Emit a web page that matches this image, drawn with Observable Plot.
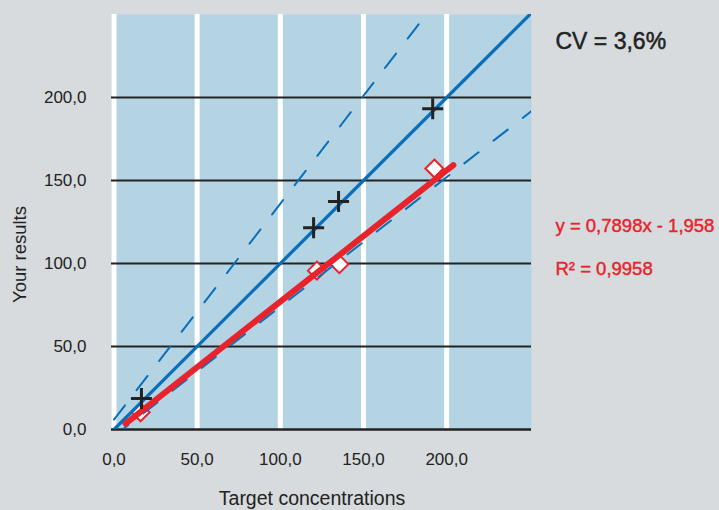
<!DOCTYPE html>
<html><head><meta charset="utf-8">
<script src="https://cdn.jsdelivr.net/npm/d3@7"></script>
<script src="https://cdn.jsdelivr.net/npm/@observablehq/plot@0.6"></script>
<style>
html,body{margin:0;padding:0;background:#d7dbdd;}
#chart{width:719px;height:510px;}
</style></head><body><div id="chart"></div>
<script>
// ---- data ----
const xTicks = [0, 50, 100, 150, 200];
const yTicks = [0, 50, 100, 150, 200];
const gridY = [50, 100, 150, 200];
const crossX = [16.5, 120, 135, 191.6];
const crossY = [18.6, 121.5, 137.3, 193.2];
const diamondX = [16, 122, 135.5, 192.6];
const diamondY = [10.4, 95.7, 99.6, 157.2];
const identityX = [0, 251];
const identityY = [0, 251];
const upperX = [0, 192];
const upperY = [6, 255.6];
const lowerX = [0, 251];
const lowerY = [-4, 191.8];
const fitX = [7, 204];
const fitY = [3.6, 159.2];
const cvText = ["CV = 3,6%"];
const eqText = ["y = 0,7898x - 1,958"];
const r2Text = ["R² = 0,9958"];
const xLabel = ["Target concentrations"];
const yLabel = ["Your results"];

const BLUE = "#0a6fba", RED = "#e8232b", INK = "#222";
const pts = (X, Y) => X.map((x, i) => ({x, y: Y[i]}));
const fmt = v => d3.format(".1f")(v).replace(".", ",");

const plusSym = {draw(ctx, size) { const r = Math.sqrt(size / Math.PI); ctx.moveTo(-r, 0); ctx.lineTo(r, 0); ctx.moveTo(0, -r); ctx.lineTo(0, r); }};
const diamondSym = {draw(ctx, size) { const r = Math.sqrt(size / Math.PI); ctx.moveTo(0, -r); ctx.lineTo(r, 0); ctx.lineTo(0, r); ctx.lineTo(-r, 0); ctx.closePath(); }};

const plot = Plot.plot({
  width: 719, height: 510,
  marginLeft: 111, marginRight: 188, marginTop: 14, marginBottom: 81,
  style: {fontFamily: "'Liberation Sans', Arial, Helvetica, sans-serif", fontSize: "17px", color: INK, background: "transparent", overflow: "visible"},
  x: {domain: [-1.5, 251], ticks: xTicks, tickFormat: fmt, tickSize: 0, tickPadding: 23, label: null},
  y: {domain: [0, 250], ticks: yTicks, tickFormat: fmt, tickSize: 0, tickPadding: 25, label: null},
  marks: [
    Plot.frame({fill: "#b4d4e4", stroke: null}),
    Plot.ruleX(xTicks, {stroke: "white", strokeWidth: 5}),
    Plot.ruleY(gridY, {stroke: INK, strokeWidth: 2}),
    Plot.ruleY([0], {stroke: INK, strokeWidth: 2.5}),
    Plot.dot(pts(diamondX, diamondY), {x: "x", y: "y", symbol: diamondSym, r: 9, fill: "white", stroke: RED, strokeWidth: 2}),
    Plot.line(pts(upperX, upperY), {x: "x", y: "y", stroke: BLUE, strokeWidth: 2, strokeDasharray: "18,19", clip: true}),
    Plot.line(pts(lowerX, lowerY), {x: "x", y: "y", stroke: BLUE, strokeWidth: 2, strokeDasharray: "18,19", clip: true}),
    Plot.line(pts(identityX, identityY), {x: "x", y: "y", stroke: BLUE, strokeWidth: 3.3, clip: true}),
    Plot.line(pts(fitX, fitY), {x: "x", y: "y", stroke: RED, strokeWidth: 6}),
    Plot.dot(pts(crossX, crossY), {x: "x", y: "y", symbol: plusSym, r: 10.5, fill: "none", stroke: INK, strokeWidth: 3}),
    Plot.text(cvText, {frameAnchor: "top-right", textAnchor: "start", lineAnchor: "top", dx: 24, dy: 18, fontSize: 23, fill: INK, stroke: INK, strokeWidth: 0.5}),
    Plot.text(eqText, {frameAnchor: "top-right", textAnchor: "start", lineAnchor: "top", dx: 24, dy: 204, fontSize: 18.5, fill: RED, stroke: RED, strokeWidth: 0.45}),
    Plot.text(r2Text, {frameAnchor: "top-right", textAnchor: "start", lineAnchor: "top", dx: 24, dy: 247, fontSize: 18.5, fill: RED, stroke: RED, strokeWidth: 0.45}),
    Plot.text(xLabel, {frameAnchor: "bottom", textAnchor: "middle", lineAnchor: "top", dx: -9.5, dy: 61.5, fontSize: 19.5, fill: INK}),
    Plot.text(yLabel, {frameAnchor: "left", textAnchor: "middle", lineAnchor: "top", rotate: -90, dx: -98.5, dy: 32.5, fontSize: 18.5, fill: INK})
  ]
});
d3.select(plot).select('g[aria-label="frame"]').style("filter", "drop-shadow(5px 5px 6px rgba(0,0,0,0.35))");
document.getElementById("chart").appendChild(plot);
</script></body></html>
